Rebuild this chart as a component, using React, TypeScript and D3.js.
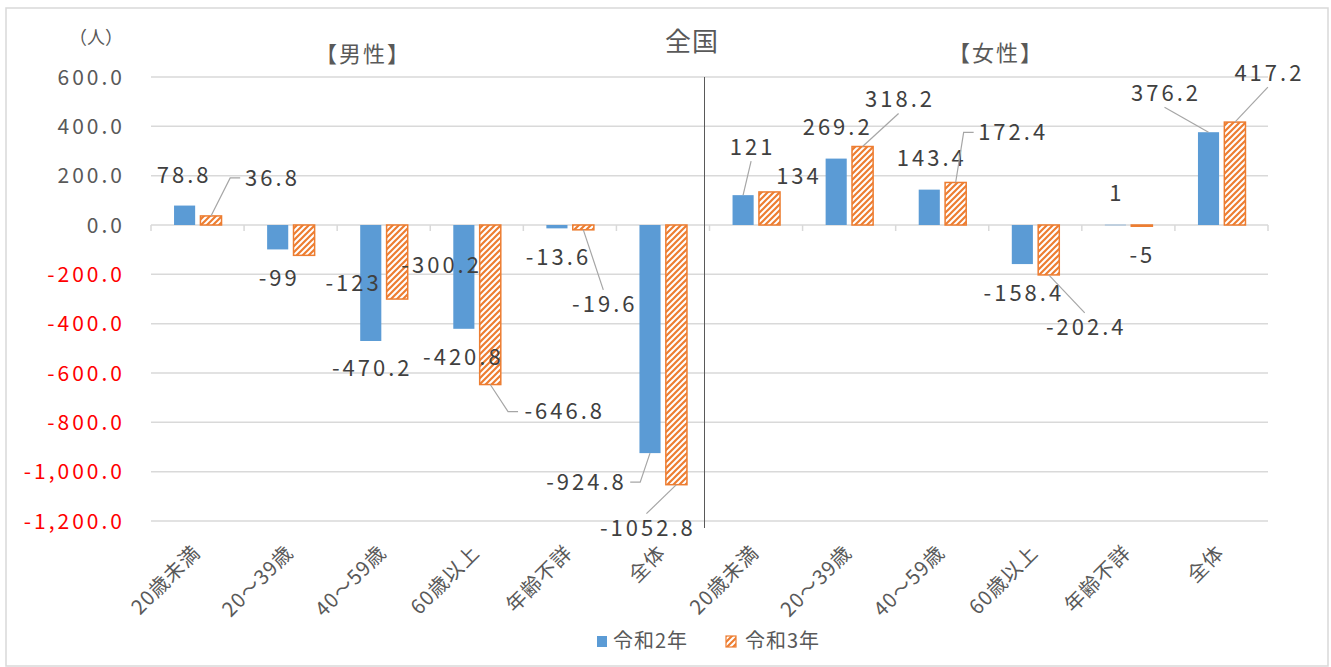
import React from 'react';
import * as d3 from 'd3';

// 年齢層（男性・女性で同じ並び）
const ageGroups = ['20歳未満', '20～39歳', '40～59歳', '60歳以上', '年齢不詳', '全体'];
const seriesNames = ['令和2年', '令和3年'];

// 男性
const maleR2 = [78.8, -99, -470.2, -420.8, -13.6, -924.8];
const maleR3 = [36.8, -123, -300.2, -646.8, -19.6, -1052.8];
// 女性
const femaleR2 = [121, 269.2, 143.4, -158.4, 1, 376.2];
const femaleR3 = [134, 318.2, 172.4, -202.4, -5, 417.2];

const yTicks = [600, 400, 200, 0, -200, -400, -600, -800, -1000, -1200];

// data label placement (offset from bar end, leader on/off) - hand tuned like the excel sheet
const labelOffsetsR2: [number, number, boolean][] = [
  [-2, -30, false], [0, 29, false], [0, 27, false], [-2, 28, false], [0, 29, false], [-65, 29, true],
  [8, -48, true], [0, -32, false], [1, -32, false], [0, 29, false], [0, -32, false], [-44, -39, true],
];
const labelOffsetsR3: [number, number, boolean][] = [
  [60, -38, true], [48, 28, false], [43, -34, false], [73, 27, true], [20, 74, true], [-30, 43, true],
  [28, -16, false], [36, -47, true], [56, -50, true], [36, 52, true], [-1, 29, false], [33, -49, true],
];

const W = 1331, H = 667;
const FONT = "'Noto Sans CJK JP', 'Noto Sans', sans-serif";
const BLUE = '#5B9BD5';
const ORANGE = '#ED7D31';
const GRID = '#d9d9d9';
const TEXT = '#595959';
const LABEL = '#404040';

const fmt = d3.formatLocale({ decimal: '.', thousands: ',', grouping: [3], currency: ['', ''], minus: '-' }).format(',.1f');

export default function App() {
  const r2 = [...maleR2, ...femaleR2];
  const r3 = [...maleR3, ...femaleR3];
  const n = r2.length;

  const x0 = d3.scaleBand<number>().domain(d3.range(n)).range([151, 1268]);
  const bw = x0.bandwidth();
  const x1 = d3.scaleBand<string>().domain(seriesNames).range([bw / 2 - 23.5, bw / 2 + 24]).paddingInner(0.2);
  const y = d3.scaleLinear().domain([-1200, 600]).range([521, 77]);
  const y0 = y(0);

  const bars: any[] = [];
  const labels: any[] = [];
  [r2, r3].forEach((vals, si) => {
    const key = seriesNames[si];
    const offs = si === 0 ? labelOffsetsR2 : labelOffsetsR3;
    vals.forEach((v, i) => {
      const bx = x0(i)! + x1(key)!;
      const top = Math.min(y(v), y0);
      const h = Math.abs(y(v) - y0);
      bars.push(
        <rect key={`b${si}-${i}`} x={bx} y={top} width={x1.bandwidth()} height={Math.max(h, 0.5)}
          fill={si === 0 ? BLUE : 'url(#hatch)'}
          stroke={si === 0 ? 'none' : ORANGE} strokeWidth={si === 0 ? 0 : 1.5} />
      );
      const ex = bx + x1.bandwidth() / 2;
      const ey = y(v);
      const [dx, dy, leader] = offs[i];
      const lx = ex + dx, ly = ey + dy;
      const txt = String(v);
      const hw = txt.length * 7.2;
      const hh = 14;
      let path = '';
      if (leader) {
        if (ex < lx - hw - 10) {
          const endX = lx - hw - 2;
          path = `M${ex},${ey}L${endX - 10},${ly}L${endX},${ly}`;
        } else if (ex > lx + hw + 15) {
          const endX = lx + hw + 2;
          path = `M${ex},${ey}L${endX + 10},${ly}L${endX},${ly}`;
        } else {
          const endY = ly < ey ? ly + hh : ly - hh;
          path = `M${ex},${ey}L${lx},${endY}`;
        }
      }
      labels.push(
        <g key={`l${si}-${i}`}>
          {leader && <path d={path} fill="none" stroke="#a6a6a6" strokeWidth={1.2} />}
          <text x={lx + 1.5} y={ly} dy="0.36em" textAnchor="middle" fontSize={22} letterSpacing={3} fill={LABEL}>{txt}</text>
        </g>
      );
    });
  });

  const divX = x0(6)! - 5;

  return (
    <svg width={W} height={H} style={{ position: 'absolute', left: 0, top: 0, background: '#fff' }} fontFamily={FONT}>
      <defs>
        <pattern id="hatch" patternUnits="userSpaceOnUse" width="6" height="6">
          <rect width="6" height="6" fill="#fff" />
          <path d="M-1,1 l2,-2 M0,6 l6,-6 M5,7 l2,-2" stroke={ORANGE} strokeWidth="2.2" />
        </pattern>
      </defs>
      <rect x={6} y={8} width={1322} height={658} fill="#fff" stroke={GRID} strokeWidth={1.5} />

      {/* gridlines */}
      {yTicks.map(t => (
        <line key={t} x1={151} x2={1268} y1={y(t)} y2={y(t)} stroke={GRID} strokeWidth={1.5} />
      ))}
      {/* category ticks on the zero line */}
      {d3.range(n + 1).map(i => {
        const tx = i < n ? x0(i)! : 1268;
        return <line key={i} x1={tx} x2={tx} y1={y0} y2={y0 + 6} stroke={GRID} strokeWidth={1.5} />;
      })}

      {/* y axis labels */}
      {yTicks.map(t => (
        <text key={t} x={125} y={y(t)} dy="0.36em" textAnchor="end" fontSize={21} letterSpacing={3}
          fill={t < 0 ? '#ff0000' : TEXT}>{fmt(t)}</text>
      ))}
      <text x={123} y={44} textAnchor="end" fontSize={18} fill={TEXT}>（人）</text>

      {/* titles */}
      <text x={692} y={51} textAnchor="middle" fontSize={26} letterSpacing={1} fill={TEXT}>全国</text>
      <text x={363} y={62} textAnchor="middle" fontSize={22} letterSpacing={2} fill={TEXT}>【男性】</text>
      <text x={996} y={61} textAnchor="middle" fontSize={22} letterSpacing={2} fill={TEXT}>【女性】</text>

      {bars}

      <line x1={divX} x2={divX} y1={y(600)} y2={528} stroke="#595959" strokeWidth={1} />

      {labels}

      {/* category labels */}
      {d3.range(n).map(i => {
        const cx = x0(i)! + bw / 2 + 4;
        return (
          <text key={i} transform={`translate(${cx},554) rotate(-45)`} textAnchor="end" fontSize={20} letterSpacing={1} fill={TEXT}>
            {ageGroups[i % ageGroups.length]}
          </text>
        );
      })}

      {/* legend */}
      <rect x={597} y={636} width={10} height={11} fill={BLUE} />
      <text x={613} y={641} dy="0.36em" fontSize={20} letterSpacing={1} fill={TEXT}>{seriesNames[0]}</text>
      <rect x={726} y={636} width={10} height={11} fill="url(#hatch)" stroke={ORANGE} strokeWidth={1.2} />
      <text x={745} y={641} dy="0.36em" fontSize={20} letterSpacing={1} fill={TEXT}>{seriesNames[1]}</text>
    </svg>
  );
}
